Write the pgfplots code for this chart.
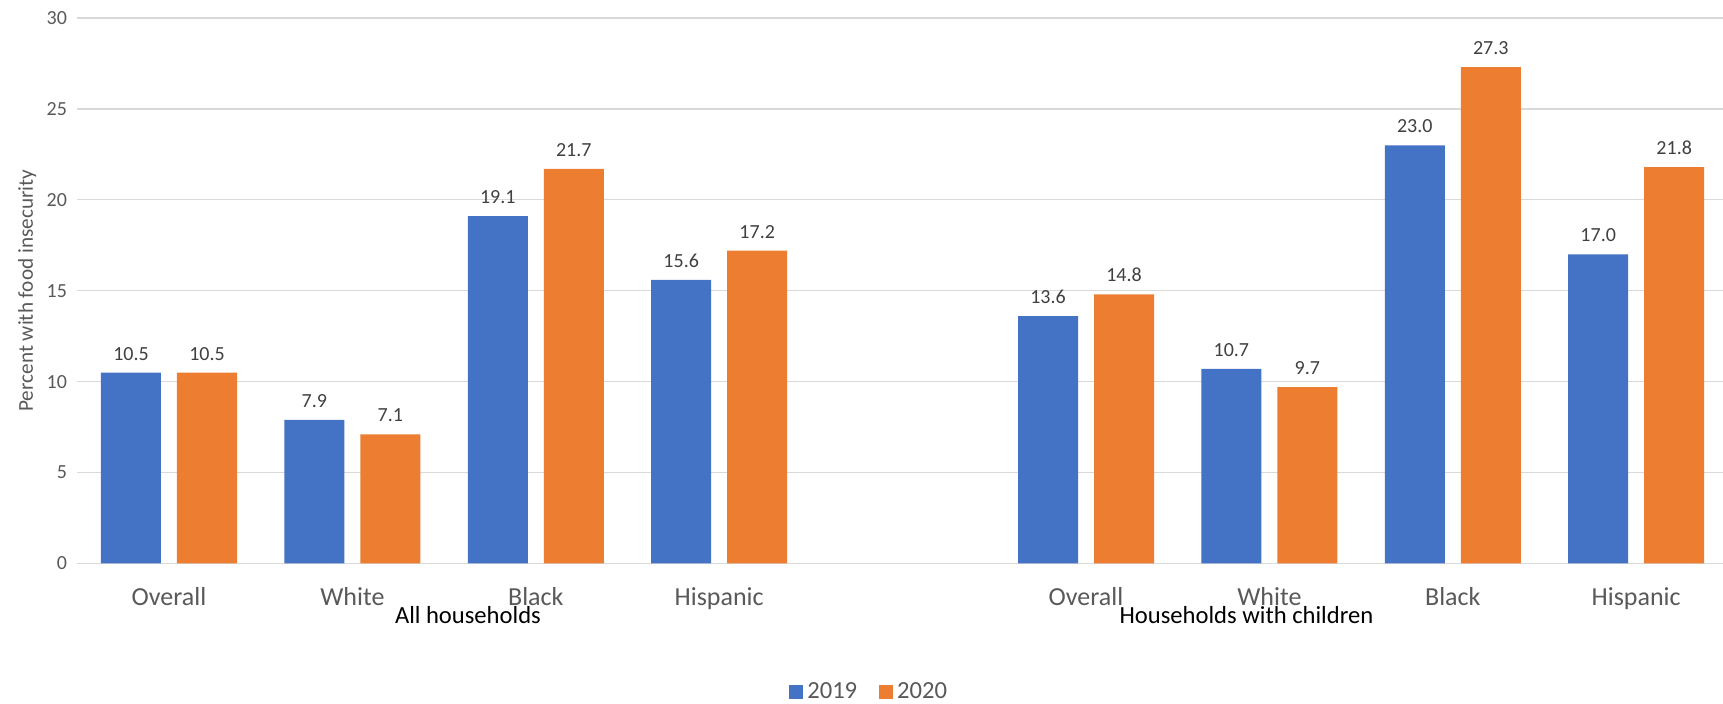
\documentclass[border=0pt]{standalone}
\usepackage{pgfplots}
\pgfplotsset{compat=1.18}
\usepackage{fontspec}
\setmainfont{Carlito}
\definecolor{cblue}{HTML}{4472C4}
\definecolor{corange}{HTML}{ED7D31}
\definecolor{gridc}{HTML}{D9D9D9}
\definecolor{tickc}{HTML}{595959}
\definecolor{labc}{HTML}{404040}
\begin{document}
\begin{tikzpicture}
\begin{axis}[
  name=ax,
  scale only axis,
  width=823pt, height=272.75pt,
  xmin=-0.5, xmax=8.475,
  ymin=0, ymax=30,
  ytick={0,5,10,15,20,25,30},
  xtick={0,1,2,3,5,6,7,8},
  xticklabels={Overall,White,Black,Hispanic,Overall,White,Black,Hispanic},
  ybar=8pt, bar width=30pt,
  major tick length=0pt,
  axis x line*=bottom, axis y line*=left,
  x axis line style={draw=gridc, line width=0.85pt},
  y axis line style={draw=none},
  ymajorgrids, grid style={draw=gridc, line width=0.65pt},
  /pgf/number format/assume math mode=true,
  yticklabel style={font=\fontsize{10}{12}\selectfont, text=tickc, anchor=east, inner sep=0pt, xshift=-5pt},
  xticklabel style={font=\fontsize{13}{15}\selectfont, text=tickc, anchor=base, inner sep=0pt, yshift=-21pt},
  ylabel={Percent with food insecurity},
  ylabel style={at={(axis description cs:0,0.5)}, anchor=center, yshift=25pt, font=\fontsize{10.6}{12}\selectfont, text=tickc, inner sep=0pt},
  nodes near coords,
  nodes near coords style={font=\fontsize{10}{12}\selectfont, text=labc, anchor=base, yshift=6.2pt, inner sep=0pt,
    /pgf/number format/.cd, fixed, fixed zerofill, precision=1},
  clip=false,
  legend style={at={(rel axis cs:0.4817,-0.2356)}, anchor=center, draw=none, fill=none,
    font=\fontsize{12.3}{14}\selectfont, text=tickc, legend columns=2,
    /tikz/every even column/.append style={column sep=9pt}},
  legend image code/.code={\fill[#1,draw=none] (0pt,-3.5pt) rectangle (7pt,3.5pt);},
]
\addplot[fill=cblue, draw=none] coordinates {(0,10.5) (1,7.9) (2,19.1) (3,15.6) (5,13.6) (6,10.7) (7,23.0) (8,17.0)};
\addplot[fill=corange, draw=none] coordinates {(0,10.5) (1,7.1) (2,21.7) (3,17.2) (5,14.8) (6,9.7) (7,27.3) (8,21.8)};
\legend{2019,2020}
\node[anchor=base, yshift=-30.25pt, font=\fontsize{12.3}{14}\selectfont, text=black, inner sep=0pt] at (axis cs:1.63,0) {All households};
\node[anchor=base, yshift=-30.25pt, font=\fontsize{12.3}{14}\selectfont, text=black, inner sep=0pt] at (axis cs:5.875,0) {Households with children};
\coordinate (O) at (rel axis cs:0,0);
\end{axis}
\pgfresetboundingbox
\path[use as bounding box] ([shift={(-38.65pt,-70.25pt)}]O) rectangle ++(861.5pt,352pt);
\end{tikzpicture}
\end{document}
